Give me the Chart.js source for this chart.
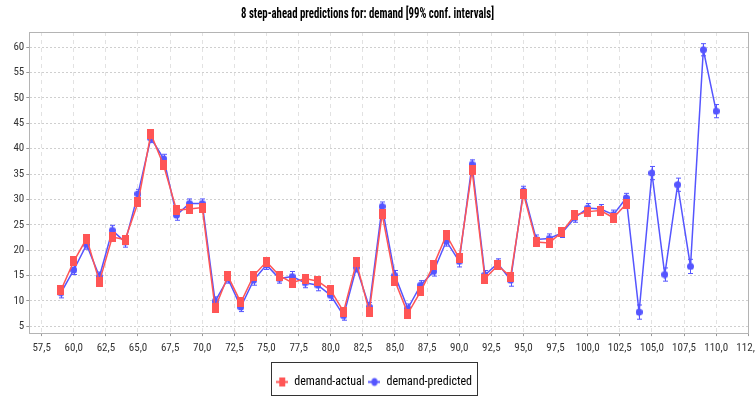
<!DOCTYPE html>
<html lang="en">
<head>
    <meta charset="UTF-8">
    <title>8 step-ahead predictions for: demand</title>
    <script src="https://cdn.jsdelivr.net/npm/chart.js"></script>
    <style>
        html, body { margin: 0; padding: 0; background: #fff; }
        #wrap { width: 755px; height: 398px; }
    </style>
</head>
<body>
    <div id="wrap"><canvas id="predChart" width="755" height="398"></canvas></div>
    <script>
        // time steps and values
        const actualSteps = [59, 60, 61, 62, 63, 64, 65, 66, 67, 68, 69, 70, 71, 72, 73, 74, 75, 76, 77, 78, 79, 80,
            81, 82, 83, 84, 85, 86, 87, 88, 89, 90, 91, 92, 93, 94, 95, 96, 97, 98, 99, 100, 101, 102, 103];
        const actualDemand = [12.1, 17.8, 22.3, 13.8, 22.6, 22.1, 29.4, 42.9, 36.7, 27.9, 28.1, 28.4, 8.6, 14.9, 9.7,
            15.0, 17.7, 15.0, 13.6, 14.4, 13.9, 12.1, 7.9, 17.6, 7.9, 27.1, 13.9, 7.5, 11.9, 17.0, 23.0, 18.4, 35.8,
            14.4, 17.0, 14.8, 31.1, 21.6, 21.4, 23.6, 26.9, 27.6, 27.8, 26.4, 29.1];

        const predSteps = [59, 60, 61, 62, 63, 64, 65, 66, 67, 68, 69, 70, 71, 72, 73, 74, 75, 76, 77, 78, 79, 80,
            81, 82, 83, 84, 85, 86, 87, 88, 89, 90, 91, 92, 93, 94, 95, 96, 97, 98, 99, 100, 101, 102, 103,
            104, 105, 106, 107, 108, 109, 110];
        const predDemand = [11.6, 16.1, 21.1, 14.8, 23.9, 21.6, 31.1, 42.1, 38.0, 26.9, 29.2, 29.2, 9.9, 14.4, 8.8,
            14.1, 17.1, 14.4, 14.8, 13.6, 13.1, 11.1, 7.1, 16.6, 8.8, 28.6, 15.0, 8.5, 13.1, 15.8, 21.8, 17.8, 36.9,
            15.1, 17.4, 14.1, 31.7, 22.1, 22.3, 23.4, 26.4, 28.3, 28.1, 27.0, 30.3,
            7.8, 35.2, 15.2, 32.9, 16.8, 59.5, 47.4];
        // half width of the 99% interval
        const predConf = [1.0, 0.9, 0.9, 0.9, 1.0, 1.0, 0.9, 0.9, 0.9, 1.0, 0.9, 0.9, 0.9, 0.9, 0.9,
            1.0, 0.9, 0.9, 1.0, 1.0, 1.1, 1.0, 0.9, 0.9, 0.9, 0.9, 1.0, 0.9, 0.9, 0.9, 1.0, 1.1, 0.9,
            0.9, 0.9, 1.2, 0.9, 0.9, 0.9, 0.9, 0.9, 0.9, 0.9, 0.9, 0.9,
            1.4, 1.3, 1.3, 1.3, 1.4, 1.2, 1.3];

        const xTicks = [57.5, 60, 62.5, 65, 67.5, 70, 72.5, 75, 77.5, 80, 82.5, 85, 87.5, 90, 92.5, 95, 97.5,
            100, 102.5, 105, 107.5, 110, 112.5];
        const yTicks = [5, 10, 15, 20, 25, 30, 35, 40, 45, 50, 55, 60];

        const RED = '#ff5555';
        const BLUE = '#5555ff';
        const FONT = "'Liberation Sans Narrow', 'Roboto Condensed', 'Noto Sans Condensed', 'Open Sans Condensed', 'DejaVu Sans Condensed', sans-serif";

        function makeMarker(w, h, color, kind, withLine) {
            const c = document.createElement('canvas');
            c.width = w; c.height = h;
            const g = c.getContext('2d');
            g.fillStyle = color;
            g.strokeStyle = color;
            if (withLine) {
                g.lineWidth = 2;
                g.beginPath(); g.moveTo(0, h / 2); g.lineTo(w, h / 2); g.stroke();
            }
            const mw = withLine ? 6 : w, mh = withLine ? 9 : h;
            if (kind === 'rect') {
                g.fillRect((w - mw) / 2, (h - mh) / 2, mw, mh);
            } else {
                g.beginPath();
                g.ellipse(w / 2, h / 2, mw / 2, (mh - 1) / 2, 0, 0, Math.PI * 2);
                g.fill();
            }
            return c;
        }
        const redPt = makeMarker(7, 10, RED, 'rect', false);
        const bluePt = makeMarker(7, 8, BLUE, 'ellipse', false);
        const redLeg = makeMarker(12, 11, RED, 'rect', true);
        const blueLeg = makeMarker(12, 11, BLUE, 'ellipse', true);

        const errorBars = {
            id: 'errorBars',
            beforeDatasetsDraw(chart) {
                const ctx = chart.ctx, xs = chart.scales.x, ys = chart.scales.y;
                ctx.save();
                ctx.strokeStyle = BLUE;
                ctx.lineWidth = 1;
                predSteps.forEach((s, i) => {
                    const px = Math.round(xs.getPixelForValue(s)) + 0.5;
                    const lo = ys.getPixelForValue(predDemand[i] - predConf[i]);
                    const hi = ys.getPixelForValue(predDemand[i] + predConf[i]);
                    ctx.beginPath();
                    ctx.moveTo(px, lo); ctx.lineTo(px, hi);
                    ctx.moveTo(px - 2.5, lo); ctx.lineTo(px + 2.5, lo);
                    ctx.moveTo(px - 2.5, hi); ctx.lineTo(px + 2.5, hi);
                    ctx.stroke();
                });
                ctx.restore();
            }
        };

        const frame = {
            id: 'frame',
            beforeDraw(chart) {
                const ctx = chart.ctx;
                ctx.save();
                ctx.fillStyle = '#fff';
                ctx.fillRect(0, 0, chart.width, chart.height);
                ctx.restore();
            },
            afterDraw(chart) {
                const ctx = chart.ctx, a = chart.chartArea;
                ctx.save();
                ctx.strokeStyle = '#b4b4b4';
                ctx.lineWidth = 1;
                ctx.strokeRect(Math.round(a.left) + 0.5, Math.round(a.top) + 0.5,
                    Math.round(a.right - a.left), Math.round(a.bottom - a.top));
                // title, squeezed to the narrow width of the original
                const title = '8 step-ahead predictions for: demand [99% conf. intervals]';
                ctx.fillStyle = '#000';
                ctx.font = 'bold 14px ' + FONT;
                ctx.textAlign = 'center';
                ctx.textBaseline = 'middle';
                const sx = Math.min(1, 253 / ctx.measureText(title).width);
                ctx.translate(367.5, 14);
                ctx.scale(sx, 1);
                ctx.fillText(title, 0, 0);
                ctx.setTransform(1, 0, 0, 1, 0, 0);
                // legend border
                const lg = chart.legend;
                if (lg && lg.legendHitBoxes.length) {
                    const boxes = lg.legendHitBoxes;
                    const l = boxes[0].left, r = boxes[boxes.length - 1].left + boxes[boxes.length - 1].width;
                    ctx.strokeStyle = '#333';
                    ctx.strokeRect(Math.round(l - 5) + 0.5, 362.5, Math.round(r - l + 10), 33);
                }
                ctx.restore();
            }
        };

        new Chart(document.getElementById('predChart'), {
            type: 'line',
            data: {
                datasets: [{
                    label: 'demand-actual',
                    data: actualSteps.map((s, i) => ({ x: s, y: actualDemand[i] })),
                    borderColor: RED,
                    backgroundColor: RED,
                    borderWidth: 1.5,
                    pointStyle: redPt,
                    tension: 0
                }, {
                    label: 'demand-predicted',
                    data: predSteps.map((s, i) => ({ x: s, y: predDemand[i] })),
                    borderColor: BLUE,
                    backgroundColor: BLUE,
                    borderWidth: 1.5,
                    pointStyle: bluePt,
                    tension: 0
                }]
            },
            options: {
                responsive: false,
                animation: false,
                layout: { padding: { top: 32, right: 6.7, left: 0, bottom: 0 } },
                plugins: {
                    title: { display: false },
                    tooltip: { enabled: false },
                    legend: {
                        position: 'bottom',
                        labels: {
                            color: '#222',
                            font: { family: FONT, size: 12 },
                            padding: 4,
                            boxWidth: 12,
                            usePointStyle: true,
                            generateLabels(chart) {
                                return chart.data.datasets.map((ds, i) => ({
                                    text: ds.label,
                                    pointStyle: i === 0 ? redLeg : blueLeg,
                                    fillStyle: ds.borderColor,
                                    strokeStyle: ds.borderColor,
                                    lineWidth: 0,
                                    hidden: false,
                                    datasetIndex: i
                                }));
                            }
                        }
                    }
                },
                scales: {
                    x: {
                        type: 'linear',
                        min: 56.54,
                        max: 112.5,
                        afterBuildTicks(scale) { scale.ticks = xTicks.map(v => ({ value: v })); },
                        afterFit(scale) { scale.height = 38.9; scale.paddingLeft = 0; scale.paddingRight = 0; },
                        ticks: {
                            color: '#333',
                            font: { family: FONT, size: 11 },
                            padding: 6,
                            maxRotation: 0,
                            autoSkip: false,
                            callback: v => v.toFixed(1).replace('.', ',')
                        },
                        grid: { color: '#e2e2e2', tickLength: 3, tickColor: '#999' },
                        border: { color: '#999', dash: [4, 4] }
                    },
                    y: {
                        min: 3.66,
                        max: 63.0,
                        afterBuildTicks(scale) { scale.ticks = yTicks.map(v => ({ value: v })); },
                        afterFit(scale) { scale.width = 29.3; scale.paddingTop = 0; scale.paddingBottom = 0; },
                        ticks: {
                            color: '#333',
                            font: { family: FONT, size: 11 },
                            padding: 2,
                            autoSkip: false
                        },
                        grid: { color: '#cfcfcf', tickLength: 3, tickColor: '#999' },
                        border: { color: '#999', dash: [2, 2] }
                    }
                }
            },
            plugins: [frame, errorBars]
        });
    </script>
</body>
</html>
